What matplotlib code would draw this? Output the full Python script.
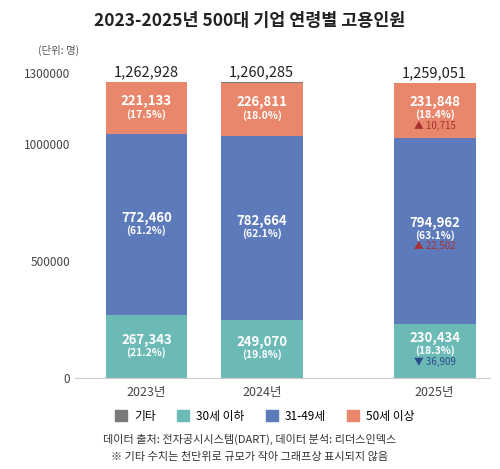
import matplotlib
matplotlib.use("Agg")
import matplotlib.pyplot as plt
from matplotlib.patches import Patch

plt.rcParams['font.family'] = ['Noto Sans CJK KR', 'DejaVu Sans']

years = ['2023년', '2024년', '2025년']
totals = [1262928, 1260285, 1259051]
under30 = [267343, 249070, 230434]
mid = [772460, 782664, 794962]
over50 = [221133, 226811, 231848]
etc = [t - a - b - c for t, a, b, c in zip(totals, under30, mid, over50)]
pct_under30 = ['21.2%', '19.8%', '18.3%']
pct_mid = ['61.2%', '62.1%', '63.1%']
pct_over50 = ['17.5%', '18.0%', '18.4%']
chg_under30 = [None, None, '▼ 36,909']
chg_mid = [None, None, '▲ 22,502']
chg_over50 = [None, None, '▲ 10,715']

c_etc, c_u30, c_mid, c_o50 = '#7a7a7a', '#6cbab6', '#5d7abb', '#e8876b'

fig = plt.figure(figsize=(5, 4.69), dpi=100)
ax = fig.add_axes([0.15, 0.194, 0.83, 0.67])
x = [0, 1, 2.5]
w = 0.71
ax.bar(x, under30, w, color=c_u30)
ax.bar(x, mid, w, bottom=under30, color=c_mid)
b2 = [a + b for a, b in zip(under30, mid)]
ax.bar(x, over50, w, bottom=b2, color=c_o50)
b3 = [a + b for a, b in zip(b2, over50)]
ax.bar(x, etc, w, bottom=b3, color=c_etc)

def lab(xi, y, val, pct, chg, chgcol):
    dy = 0 if chg is None else 25000
    ax.text(xi, y + 30000 + dy, f'{val:,}', ha='center', va='center', color='white', fontsize=9.5, fontweight='bold')
    ax.text(xi, y - 25000 + dy, f'({pct})', ha='center', va='center', color='white', fontsize=7.5, fontweight='bold')
    if chg:
        ax.text(xi, y - 70000 + dy, chg, ha='center', va='center', color=chgcol, fontsize=7)

for i in range(3):
    lab(x[i], under30[i] / 2, under30[i], pct_under30[i], chg_under30[i], '#2d4a8a')
    lab(x[i], under30[i] + mid[i] / 2 if chg_mid[i] is None else under30[i] + mid[i] / 2 - 20000, mid[i], pct_mid[i], chg_mid[i], '#a83232')
    lab(x[i], b2[i] + over50[i] / 2 - (20000 if chg_over50[i] else 0), over50[i], pct_over50[i], chg_over50[i], '#a83232')
    ax.text(x[i], totals[i] + 12000, f'{totals[i]:,}', ha='center', va='bottom', fontsize=10.5, fontweight='medium', color='#222222')

ax.set_ylim(0, 1340000)
ax.set_xlim(-0.62, 2.98)
ax.set_yticks([0, 500000, 1000000, 1300000])
ax.set_yticklabels(['0', '500000', '1000000', '1300000'], fontsize=8.5, color='#444444')
ax.set_xticks(x)
ax.set_xticklabels(years, fontsize=9, color='#444444')
for s in ['top', 'right', 'left']:
    ax.spines[s].set_visible(False)
ax.spines['bottom'].set_color('#cccccc')
ax.tick_params(length=0)
ax.tick_params(axis='x', pad=6)

fig.text(0.5, 0.955, '2023-2025년 500대 기업 연령별 고용인원', ha='center', va='center', fontsize=12.5, fontweight='bold', color='#222222')
fig.text(0.075, 0.893, '(단위: 명)', ha='left', va='center', fontsize=7.5, color='#555555')

handles = [Patch(color=c_etc), Patch(color=c_u30), Patch(color=c_mid), Patch(color=c_o50)]
fig.legend(handles, ['기타', '30세 이하', '31-49세', '50세 이상'], loc='center', bbox_to_anchor=(0.53, 0.113),
           ncol=4, frameon=False, fontsize=8.5, handlelength=1, handleheight=1, columnspacing=1.8, handletextpad=0.6)
fig.text(0.5, 0.062, '데이터 출처: 전자공시시스템(DART), 데이터 분석: 리더스인덱스', ha='center', va='center', fontsize=8, color='#333333')
fig.text(0.5, 0.025, '※ 기타 수치는 천단위로 규모가 작아 그래프상 표시되지 않음', ha='center', va='center', fontsize=8, color='#333333')

fig.savefig('out.png', dpi=100)
